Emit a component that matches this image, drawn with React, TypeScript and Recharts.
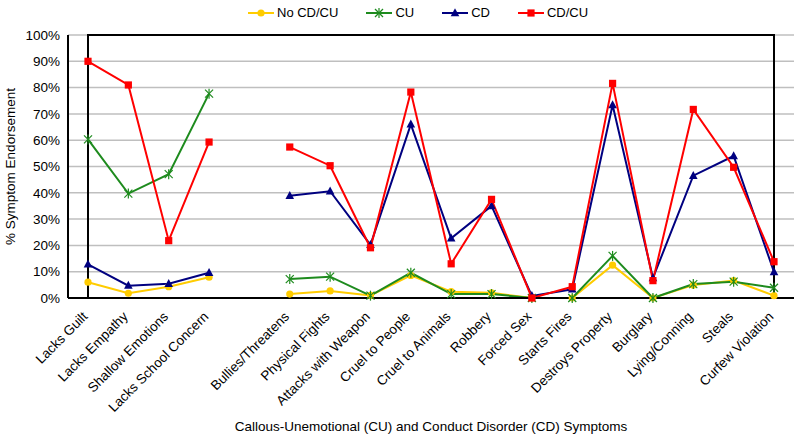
import React from 'react';
import { LineChart, Line, XAxis, YAxis, CartesianGrid, Legend, ReferenceArea } from 'recharts';

const categories = [
  'Lacks Guilt', 'Lacks Empathy', 'Shallow Emotions', 'Lacks School Concern', '',
  'Bullies/Threatens', 'Physical Fights', 'Attacks with Weapon', 'Cruel to People',
  'Cruel to Animals', 'Robbery', 'Forced Sex', 'Starts Fires', 'Destroys Property',
  'Burglary', 'Lying/Conning', 'Steals', 'Curfew Violation',
];

const noCdCu = [6.0, 1.8, 4.3, 7.9, null, 1.5, 2.7, 1.0, 8.6, 2.4, 2.0, 0, 0, 12.5, 0, 4.9, 6.6, 0.9];
const cu = [60.3, 39.7, 47.1, 77.7, null, 7.2, 8.1, 0.9, 9.6, 1.5, 1.5, 0, 0, 16.0, 0, 5.3, 6.2, 3.9];
const cd = [12.8, 4.7, 5.4, 9.6, null, 38.9, 40.6, 20.2, 66.0, 22.7, 35.0, 0.8, 3.3, 73.4, 7.6, 46.5, 54.0, 9.9];
const cdCu = [90.0, 81.0, 21.8, 59.3, null, 57.4, 50.3, 19.1, 78.3, 13.0, 37.5, 0, 4.3, 81.6, 6.6, 71.7, 49.7, 13.8];

const yTicks = [0, 10, 20, 30, 40, 50, 60, 70, 80, 90, 100];

const data = categories.map((name, i) => ({
  name,
  noCdCu: noCdCu[i],
  cu: cu[i],
  cd: cd[i],
  cdCu: cdCu[i],
}));

const YELLOW = '#FFCC00';
const GREEN = '#1E8B1E';
const NAVY = '#000080';
const RED = '#FF0000';
const FONT = 'Arial, "Liberation Sans", sans-serif';

const Marker = ({ kind, cx, cy, color }: { kind: string; cx: number; cy: number; color: string }) => {
  if (kind === 'circle') return <circle cx={cx} cy={cy} r={3.6} fill={color} />;
  if (kind === 'square') return <rect x={cx - 3.6} y={cy - 3.6} width={7.2} height={7.2} fill={color} />;
  if (kind === 'triangle')
    return <polygon points={`${cx},${cy - 4.8} ${cx + 4.3},${cy + 3.2} ${cx - 4.3},${cy + 3.2}`} fill={color} />;
  const s = 4;
  return (
    <g stroke={color} strokeWidth={1.2}>
      <line x1={cx - s} y1={cy - s} x2={cx + s} y2={cy + s} />
      <line x1={cx - s} y1={cy + s} x2={cx + s} y2={cy - s} />
      <line x1={cx} y1={cy - s - 1} x2={cx} y2={cy + s + 1} />
    </g>
  );
};

const makeDot = (kind: string, color: string) => (props: any) => {
  const { cx, cy, index, value } = props;
  if (value == null || cy == null || isNaN(cy)) return <g key={`e-${kind}-${index}`} />;
  return (
    <g key={`d-${kind}-${index}`}>
      <Marker kind={kind} cx={cx} cy={cy} color={color} />
    </g>
  );
};

const legendItems = [
  { label: 'No CD/CU', kind: 'circle', color: YELLOW },
  { label: 'CU', kind: 'star', color: GREEN },
  { label: 'CD', kind: 'triangle', color: NAVY },
  { label: 'CD/CU', kind: 'square', color: RED },
];

const LegendContent = () => (
  <div style={{ display: 'flex', alignItems: 'center', fontFamily: FONT, fontSize: 13, color: '#000' }}>
    {legendItems.map((it, i) => (
      <div key={it.label} style={{ display: 'flex', alignItems: 'center', marginRight: i < 3 ? 28 : 0 }}>
        <svg width={26} height={12} style={{ marginRight: 3 }}>
          <line x1={0} y1={6} x2={26} y2={6} stroke={it.color} strokeWidth={2} />
          <Marker kind={it.kind} cx={13} cy={6} color={it.color} />
        </svg>
        <span>{it.label}</span>
      </div>
    ))}
  </div>
);

const XTick = (props: any) => {
  const { x, y, payload } = props;
  if (!payload.value) return <g />;
  return (
    <g transform={`translate(${x - 3},${y + 8})`}>
      <text
        x={0}
        y={0}
        dy="0.35em"
        textAnchor="end"
        transform="rotate(-45)"
        fontFamily={FONT}
        fontSize={13.5}
        fill="#000"
      >
        {payload.value}
      </text>
    </g>
  );
};

const YTitle = (props: any) => {
  const vb = props.viewBox || { x: 0, y: 35, width: 68, height: 263 };
  const cy = vb.y + vb.height / 2;
  return (
    <text
      x={10}
      y={cy}
      transform={`rotate(-90, 10, ${cy})`}
      textAnchor="middle"
      dominantBaseline="central"
      fontFamily={FONT}
      fontSize={13.5}
      fill="#000"
    >
      % Symptom Endorsement
    </text>
  );
};

const XTitle = (props: any) => {
  const vb = props.viewBox || { x: 68, y: 298, width: 726, height: 140 };
  return (
    <text
      x={vb.x + vb.width / 2}
      y={426}
      textAnchor="middle"
      dominantBaseline="central"
      fontFamily={FONT}
      fontSize={13.5}
      fill="#000"
    >
      Callous-Unemotional (CU) and Conduct Disorder (CD) Symptoms
    </text>
  );
};

export default function App() {
  return (
    <div style={{ position: 'absolute', left: 0, top: 0, background: '#fff' }}>
      <LineChart width={800} height={438} data={data} margin={{ top: 21, right: 6, left: 0, bottom: 0 }}>
        <CartesianGrid horizontal vertical={false} stroke="#BFBFBF" strokeWidth={1.5} />
        <XAxis
          dataKey="name"
          type="category"
          interval={0}
          height={140}
          padding={{ left: 20, right: 20 }}
          tickLine={false}
          axisLine={{ stroke: '#000', strokeWidth: 2 }}
          tick={<XTick />}
          label={<XTitle />}
        />
        <YAxis
          domain={[0, 100]}
          ticks={yTicks}
          width={68}
          tickLine={false}
          axisLine={{ stroke: '#000', strokeWidth: 2 }}
          tickFormatter={(v: number) => `${v}%`}
          tick={{ fontFamily: FONT, fontSize: 13.5, fill: '#000' }}
          label={<YTitle />}
        />
        <ReferenceArea y1={0} y2={100} fill="none" fillOpacity={0} stroke="#000" strokeWidth={2} ifOverflow="visible" />
        <Legend
          verticalAlign="top"
          height={14}
          content={<LegendContent />}
          wrapperStyle={{ position: 'absolute', top: 5, left: 248, width: 'auto' }}
        />
        <Line dataKey="noCdCu" name="No CD/CU" stroke={YELLOW} strokeWidth={2} dot={makeDot('circle', YELLOW)} isAnimationActive={false} connectNulls={false} />
        <Line dataKey="cu" name="CU" stroke={GREEN} strokeWidth={2} dot={makeDot('star', GREEN)} isAnimationActive={false} connectNulls={false} />
        <Line dataKey="cd" name="CD" stroke={NAVY} strokeWidth={2} dot={makeDot('triangle', NAVY)} isAnimationActive={false} connectNulls={false} />
        <Line dataKey="cdCu" name="CD/CU" stroke={RED} strokeWidth={2} dot={makeDot('square', RED)} isAnimationActive={false} connectNulls={false} />
      </LineChart>
    </div>
  );
}
